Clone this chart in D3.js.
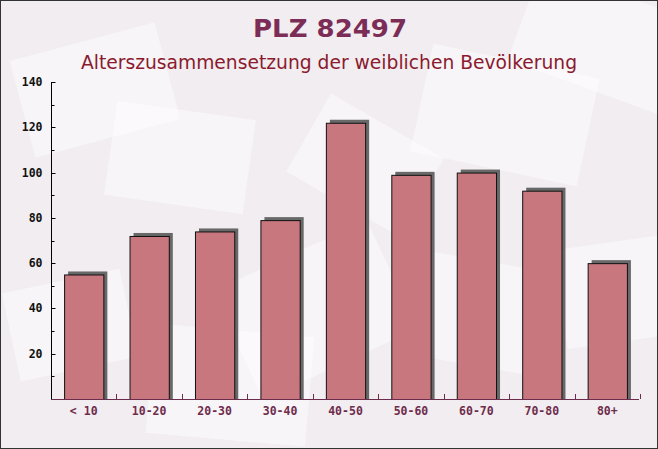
<!DOCTYPE html>
<html><head><meta charset="utf-8">
<script src="https://cdn.jsdelivr.net/npm/d3@7"></script>
<style>body{margin:0;padding:0;background:#fff}svg{display:block}</style>
</head><body>
<script>
const categories = ["< 10","10-20","20-30","30-40","40-50","50-60","60-70","70-80","80+"];
const values = [55,72,74,79,122,99,100,92,60];
const yTicks = [20,40,60,80,100,120,140];
const title = "PLZ 82497";
const subtitle = "Alterszusammensetzung der weiblichen Bevölkerung";

const W=658,H=449;
const svg=d3.select("body").append("svg").attr("width",W).attr("height",H);
svg.append("rect").attr("width",W).attr("height",H).attr("fill","#f1edf0");
// faint envelope decorations
const deco=[[20,40,150,100,-15],[110,110,140,95,8],[420,60,170,110,12],[520,-10,160,100,20],[230,250,170,120,-25],[400,260,150,105,10],[560,240,140,100,-8],[10,280,120,90,-12],[150,330,160,110,5],[300,120,130,90,30]];
svg.append("g").selectAll("rect").data(deco).join("rect")
 .attr("x",d=>d[0]).attr("y",d=>d[1]).attr("width",d=>d[2]).attr("height",d=>d[3])
 .attr("transform",d=>`rotate(${d[4]},${d[0]+d[2]/2},${d[1]+d[3]/2})`)
 .attr("fill","#ffffff").attr("opacity",0.45);

const x=d3.scaleBand().domain(categories).range([51,640]).paddingInner(0.4).paddingOuter(0.2);
const y=d3.scaleLinear().domain([0,140]).range([399,82]);

// shadows
svg.append("g").selectAll("rect").data(values).join("rect")
 .attr("x",(d,i)=>x(categories[i])+4).attr("y",d=>y(d)-3)
 .attr("width",x.bandwidth()).attr("height",d=>y(0)-y(d)+3)
 .attr("fill","#505050").attr("opacity",0.85);
// bars
svg.append("g").selectAll("rect").data(values).join("rect")
 .attr("x",(d,i)=>x(categories[i])+0.5).attr("y",d=>y(d)+0.5)
 .attr("width",x.bandwidth()).attr("height",d=>y(0)-y(d))
 .attr("fill","#c8777f").attr("stroke","#111").attr("stroke-width",1);

// y axis
const ya=svg.append("g").attr("transform","translate(51.5,0)");
ya.append("line").attr("y1",y(140)).attr("y2",y(0)).attr("stroke","#000");
ya.selectAll(".mt").data(d3.range(10,141,10)).join("line")
 .attr("x1",0).attr("x2",d=>d%20===0?4:3).attr("y1",d=>Math.round(y(d))+0.5).attr("y2",d=>Math.round(y(d))+0.5).attr("stroke","#000");
ya.selectAll("text").data(yTicks).join("text")
 .attr("x",-9).attr("y",d=>y(d)+4).attr("text-anchor","end")
 .attr("font-family","DejaVu Sans Mono").attr("font-weight","bold").attr("font-size","11.5px").attr("fill","#111")
 .text(d=>d);

// x axis
const xa=svg.append("g");
xa.append("line").attr("x1",51).attr("x2",639).attr("y1",399.5).attr("y2",399.5).attr("stroke","#6e2c4c");
const bounds=categories.map(c=>x(c)+x.bandwidth()+x.step()*0.2);
xa.selectAll(".xt").data(bounds).join("line")
 .attr("x1",d=>Math.round(d)+0.5).attr("x2",d=>Math.round(d)+0.5).attr("y1",394).attr("y2",399).attr("stroke","#6e2c4c");
xa.selectAll("text").data(categories).join("text")
 .attr("x",d=>x(d)+x.bandwidth()/2).attr("y",415).attr("text-anchor","middle")
 .attr("font-family","DejaVu Sans Mono").attr("font-weight","bold").attr("font-size","11.5px").attr("fill","#6e2c4c")
 .text(d=>d);

svg.append("text").attr("x",330).attr("y",37).attr("text-anchor","middle")
 .attr("font-family","DejaVu Sans").attr("font-weight","bold").attr("font-size","25px").attr("fill","#7b2d57")
 .attr("textLength",154).attr("lengthAdjust","spacingAndGlyphs").text(title);
svg.append("text").attr("x",329).attr("y",69).attr("text-anchor","middle")
 .attr("font-family","DejaVu Sans").attr("font-size","18.7px").attr("fill","#8b1a2e").text(subtitle);

svg.append("rect").attr("x",0.5).attr("y",0.5).attr("width",W-1).attr("height",H-1).attr("fill","none").attr("stroke","#333");
</script>
</body></html>
